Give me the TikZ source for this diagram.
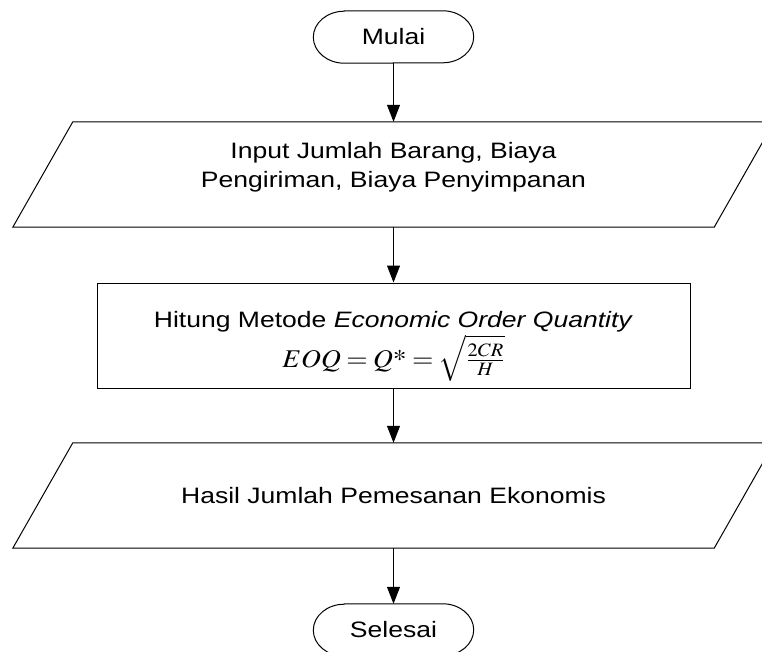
\documentclass[tikz,border=0pt]{standalone}
\usepackage{mathptmx}
\usepackage[no-math]{fontspec}
\setmainfont{Liberation Sans}[FakeStretch=1.19]
\usetikzlibrary{arrows.meta}
% full-size Times asterisk for Q*
\newcommand{\timesstar}{\mbox{\usefont{OT1}{ptm}{m}{n}*}}
\begin{document}
\begin{tikzpicture}[x=1pt,y=-1pt,
  line/.style={line width=1pt},
  flow/.style={line, -{Triangle[length=17pt,width=13pt]}},
  label/.style={inner sep=0pt, font=\fontsize{22.3}{28}\selectfont},
  terminal/.style={label, minimum width=160pt, minimum height=52pt},
  process/.style={draw, line, minimum width=593pt, minimum height=105pt, inner sep=0pt},
  iobody/.style={minimum width=641pt, minimum height=105pt, inner sep=0pt},
  iobox/.style={line, line join=miter}
]
\useasboundingbox (0,0) rectangle (762,652);

% start terminal (stadium with elliptical ends)
\node[terminal] (mulai) at (393.5,37) {Mulai};
\draw[line] ([xshift=31pt]mulai.north west) -- ([xshift=-31pt]mulai.north east)
  arc[start angle=90, end angle=-90, x radius=31pt, y radius=26pt]
  -- ([xshift=31pt]mulai.south west)
  arc[start angle=270, end angle=90, x radius=31pt, y radius=26pt] -- cycle;

% input data
\node[iobody] (input) at (393.5,174.5) {};
\draw[iobox] ([xshift=-60pt]input.south west) -- (input.north west)
  -- ([xshift=60pt]input.north east) -- (input.south east) -- cycle;
\node[label, anchor=base] (inputA) at (393.5,159) {Input Jumlah Barang, Biaya};
\node[label, anchor=base] (inputB) at (393.5,188) {Pengiriman, Biaya Penyimpanan};

% EOQ computation
\node[process] (hitung) at (393.5,335.5) {};
\node[label, anchor=base] (hitungA) at (393.5,327)
  {Hitung Metode \textit{Economic Order Quantity}};
\node[label, anchor=base] (hitungB) at (393.5,367)
  {\fontsize{25.5}{28}\selectfont\thickmuskip=3.5mu
   \scalebox{1.08}[1]{$EOQ = Q\timesstar = \sqrt{\frac{2CR}{H}}$}};

% output
\node[iobody] (hasil) at (393.5,495.5) {};
\draw[iobox] ([xshift=-60pt]hasil.south west) -- (hasil.north west)
  -- ([xshift=60pt]hasil.north east) -- (hasil.south east) -- cycle;
\node[label, anchor=base] (hasilA) at (393.5,503) {Hasil Jumlah Pemesanan Ekonomis};

% end terminal
\node[terminal] (selesai) at (393.5,630) {Selesai};
\draw[line] ([xshift=31pt]selesai.north west) -- ([xshift=-31pt]selesai.north east)
  arc[start angle=90, end angle=-90, x radius=31pt, y radius=26pt]
  -- ([xshift=31pt]selesai.south west)
  arc[start angle=270, end angle=90, x radius=31pt, y radius=26pt] -- cycle;

% flow
\draw[flow] (mulai) -- (input);
\draw[flow] (input) -- (hitung);
\draw[flow] (hitung) -- (hasil);
\draw[flow] (hasil) -- (selesai);
\end{tikzpicture}
\end{document}
